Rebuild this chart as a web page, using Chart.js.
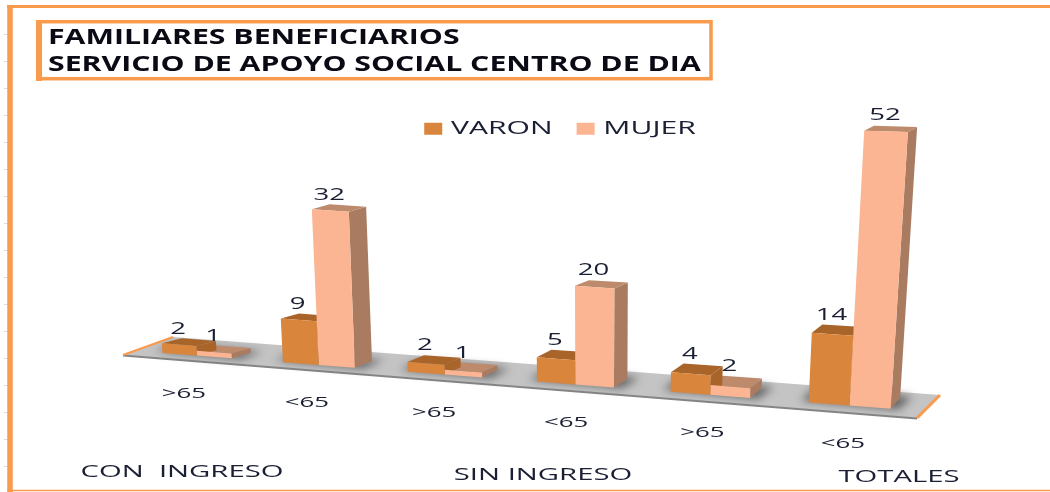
<!DOCTYPE html>
<html><head><meta charset="utf-8">
<style>html,body{margin:0;padding:0;background:#fff;overflow:hidden}#w{width:1050px;height:492px}canvas{display:block}</style>
<script src="https://cdn.jsdelivr.net/npm/chart.js@4"></script>
</head><body><div id="w"><canvas id="c" width="1050" height="492"></canvas></div>
<script>
const categories = ['>65','<65','>65','<65','>65','<65'];
const groupLabels = ['CON  INGRESO','SIN INGRESO','TOTALES'];
const varon = [2,9,2,5,4,14];
const mujer = [1,32,1,20,2,52];
const titleLines = ['FAMILIARES BENEFICIARIOS','SERVICIO DE APOYO SOCIAL CENTRO DE DIA'];
const ORANGE='#FA9A4C', INK='#1b1f33', FONT='"Open Sans"';
const COL={v:{front:'#DA853C',top:'#A9642A',side:'#A9642A'},m:{front:'#FBB592',top:'#BD8A6C',side:'#A97C62'}};

// the reference's text is horizontally stretched: widen real text when it is painted and measured
const cv=document.getElementById('c'), rawCtx=cv.getContext('2d');
const origFill=rawCtx.fillText.bind(rawCtx), origMeasure=rawCtx.measureText.bind(rawCtx);
const stretch=()=>rawCtx.font.includes('bold')||rawCtx.font.includes('700')?1.44:1.72;
rawCtx.fillText=function(t,x,y){
  const s=stretch();rawCtx.save();rawCtx.translate(x,y);rawCtx.scale(s,1);origFill(t,0,0);rawCtx.restore();
};
rawCtx.measureText=function(t){return {width:origMeasure(t).width*stretch()};};

// perspective projection of the flat chart plane
function tOf(area,x){return (x-area.left)/area.width*6-0.5;}
function sx(t){return 197+119.5*t+2.2*t*t;}
function floorY(x){return 353+0.0765*(x-163);}
function hOf(px,X){return px*(1+px*Math.max(0,X-335)*6.7e-7);}
function lean(x){return (x>595?0.00021:0.00016)*(x-595);}
function proj(area,x,h){
  const X=sx(tOf(area,x));
  const H=hOf(h,X);
  return {x:X+H*lean(X),y:floorY(X)-H};
}
function depth(x,h){
  const dx=20-(x-163)*0.0145;
  const fl=5+Math.max(0,x-163)*0.0085;
  return {dx,dy:-Math.max(5,fl-h*0.03)};
}
function poly(ctx,p,fill){ctx.beginPath();p.forEach((q,i)=>i?ctx.lineTo(q[0],q[1]):ctx.moveTo(q[0],q[1]));ctx.closePath();ctx.fillStyle=fill;ctx.fill();}
function seg(ctx,a,b,col,w){ctx.beginPath();ctx.moveTo(a[0],a[1]);ctx.lineTo(b[0],b[1]);ctx.strokeStyle=col;ctx.lineWidth=w;ctx.stroke();}

const scene={
  id:'scene',
  afterLayout(chart){
    const l=chart.legend;
    l.left=300;l.right=820;l.top=96;l.bottom=147;
    const t=chart.titleBlock;
    t.left=48;t.right=760;t.top=25;t.bottom=81;
  },
  beforeDraw(chart){
    const ctx=chart.ctx;
    ctx.save();
    ctx.fillStyle='#d9dbe6';
    for(let y=34;y<480;y+=27) ctx.fillRect(4,y,4,1);
    seg(ctx,[10,492],[10,5],ORANGE,5.5);
    seg(ctx,[7,6.5],[1050,6.5],ORANGE,3);
    seg(ctx,[7,490.5],[1050,490.5],ORANGE,1.5);
    ctx.strokeStyle=ORANGE;ctx.lineWidth=3.5;ctx.strokeRect(38,21.7,673,57);
    ctx.fillStyle=ORANGE;ctx.fillRect(36,20,6,61);
    ctx.restore();
  },
  beforeDatasetDraw(){return false;},
  beforeDatasetsDraw(chart){
    const ctx=chart.ctx,area=chart.chartArea;
    ctx.save();
    poly(ctx,[[123,355],[173,337],[940,395],[917,418]],'#C4C4C4');
    seg(ctx,[123,355.5],[917,418.5],'#858585',2);
    seg(ctx,[123,355],[173,337],ORANGE,2);
    seg(ctx,[917,418],[940,395],ORANGE,3);
    const m0=chart.getDatasetMeta(0).data,m1=chart.getDatasetMeta(1).data;
    ctx.filter='blur(4px)';
    m0.forEach((b,i)=>{
      const c=m1[i];
      const a=proj(area,b.x-b.width/2,0),d=proj(area,c.x+c.width/2,0);
      const e=depth(d.x,0);
      poly(ctx,[[a.x-8,a.y-2],[a.x+e.dx-4,a.y+e.dy-3],[d.x+e.dx+12,d.y+e.dy-1],[d.x+8,d.y+1]],'#666');
    });
    ctx.filter='none';
    [[m1,COL.m],[m0,COL.v]].forEach(([meta,col])=>{
      meta.forEach(b=>{
        const h=b.base-b.y;
        const L=b.x-b.width/2,R=b.x+b.width/2;
        const br=proj(area,R,0),tl=proj(area,L,h),tr=proj(area,R,h);
        const dT=depth(tr.x,h),dB=depth(br.x,0),dL=depth(tl.x,h);
        poly(ctx,[[br.x,br.y],[tr.x,tr.y],[tr.x+dT.dx,tr.y+dT.dy],[br.x+dB.dx,br.y+dB.dy]],col.side);
        poly(ctx,[[tl.x,tl.y],[tr.x,tr.y],[tr.x+dT.dx,tr.y+dT.dy],[tl.x+dL.dx,tl.y+dL.dy]],col.top);
      });
    });
    m0.forEach((_,i)=>{
      [[m1,COL.m],[m0,COL.v]].forEach(([meta,col])=>{
        const b=meta[i],h=b.base-b.y;
        const L=b.x-b.width/2,R=b.x+b.width/2;
        const bl=proj(area,L,0),br=proj(area,R,0),tl=proj(area,L,h),tr=proj(area,R,h);
        poly(ctx,[[bl.x,bl.y],[br.x,br.y],[tr.x,tr.y],[tl.x,tl.y]],col.front);
      });
    });
    ctx.restore();
  },
  afterDatasetsDraw(chart){
    const ctx=chart.ctx,area=chart.chartArea;
    ctx.save();
    ctx.fillStyle=INK;ctx.textAlign='center';ctx.textBaseline='alphabetic';
    ctx.font='16px '+FONT;
    chart.data.datasets.forEach((ds,k)=>{
      chart.getDatasetMeta(k).data.forEach((b,i)=>{
        const h=b.base-b.y;
        const c=proj(area,b.x,h);
        const up=depth(c.x,h);
        ctx.fillText(String(ds.data[i]),c.x-1,c.y+up.dy-6);
      });
    });
    const xs=chart.scales.x;
    ctx.font='15px '+FONT;
    categories.forEach((lab,i)=>{
      const p=proj(area,xs.getPixelForValue(i),0);
      ctx.fillText(lab,p.x-13+(p.x-200)*0.01,p.y+42);
    });
    ctx.font='17px '+FONT;
    groupLabels.forEach((g,i)=>{
      const X=[182,543,899][i],Y=[477,480,482][i];
      ctx.fillText(g,X,Y);
    });
    ctx.restore();
  }
};

new Chart(cv,{
  type:'bar',
  data:{labels:categories,datasets:[
    {label:'VARON',data:varon,backgroundColor:'#DA853C'},
    {label:'MUJER',data:mujer,backgroundColor:'#FBB592'}
  ]},
  plugins:[scene],
  options:{
    responsive:false,animation:false,
    layout:{padding:{left:125,right:130,top:0,bottom:95}},
    datasets:{bar:{categoryPercentage:0.58,barPercentage:1}},
    scales:{
      x:{display:false},
      y:{display:false,min:0,max:60}
    },
    plugins:{
      tooltip:{enabled:false},
      title:{display:true,text:titleLines,align:'start',color:'#0a0a14',
        font:{family:FONT,weight:'bold',size:21,lineHeight:1.28},padding:0},
      legend:{display:true,align:'center',
        labels:{boxWidth:18,boxHeight:12,padding:24,color:INK,font:{family:FONT,size:17.5}}}
    }
  }
});
</script></body></html>
